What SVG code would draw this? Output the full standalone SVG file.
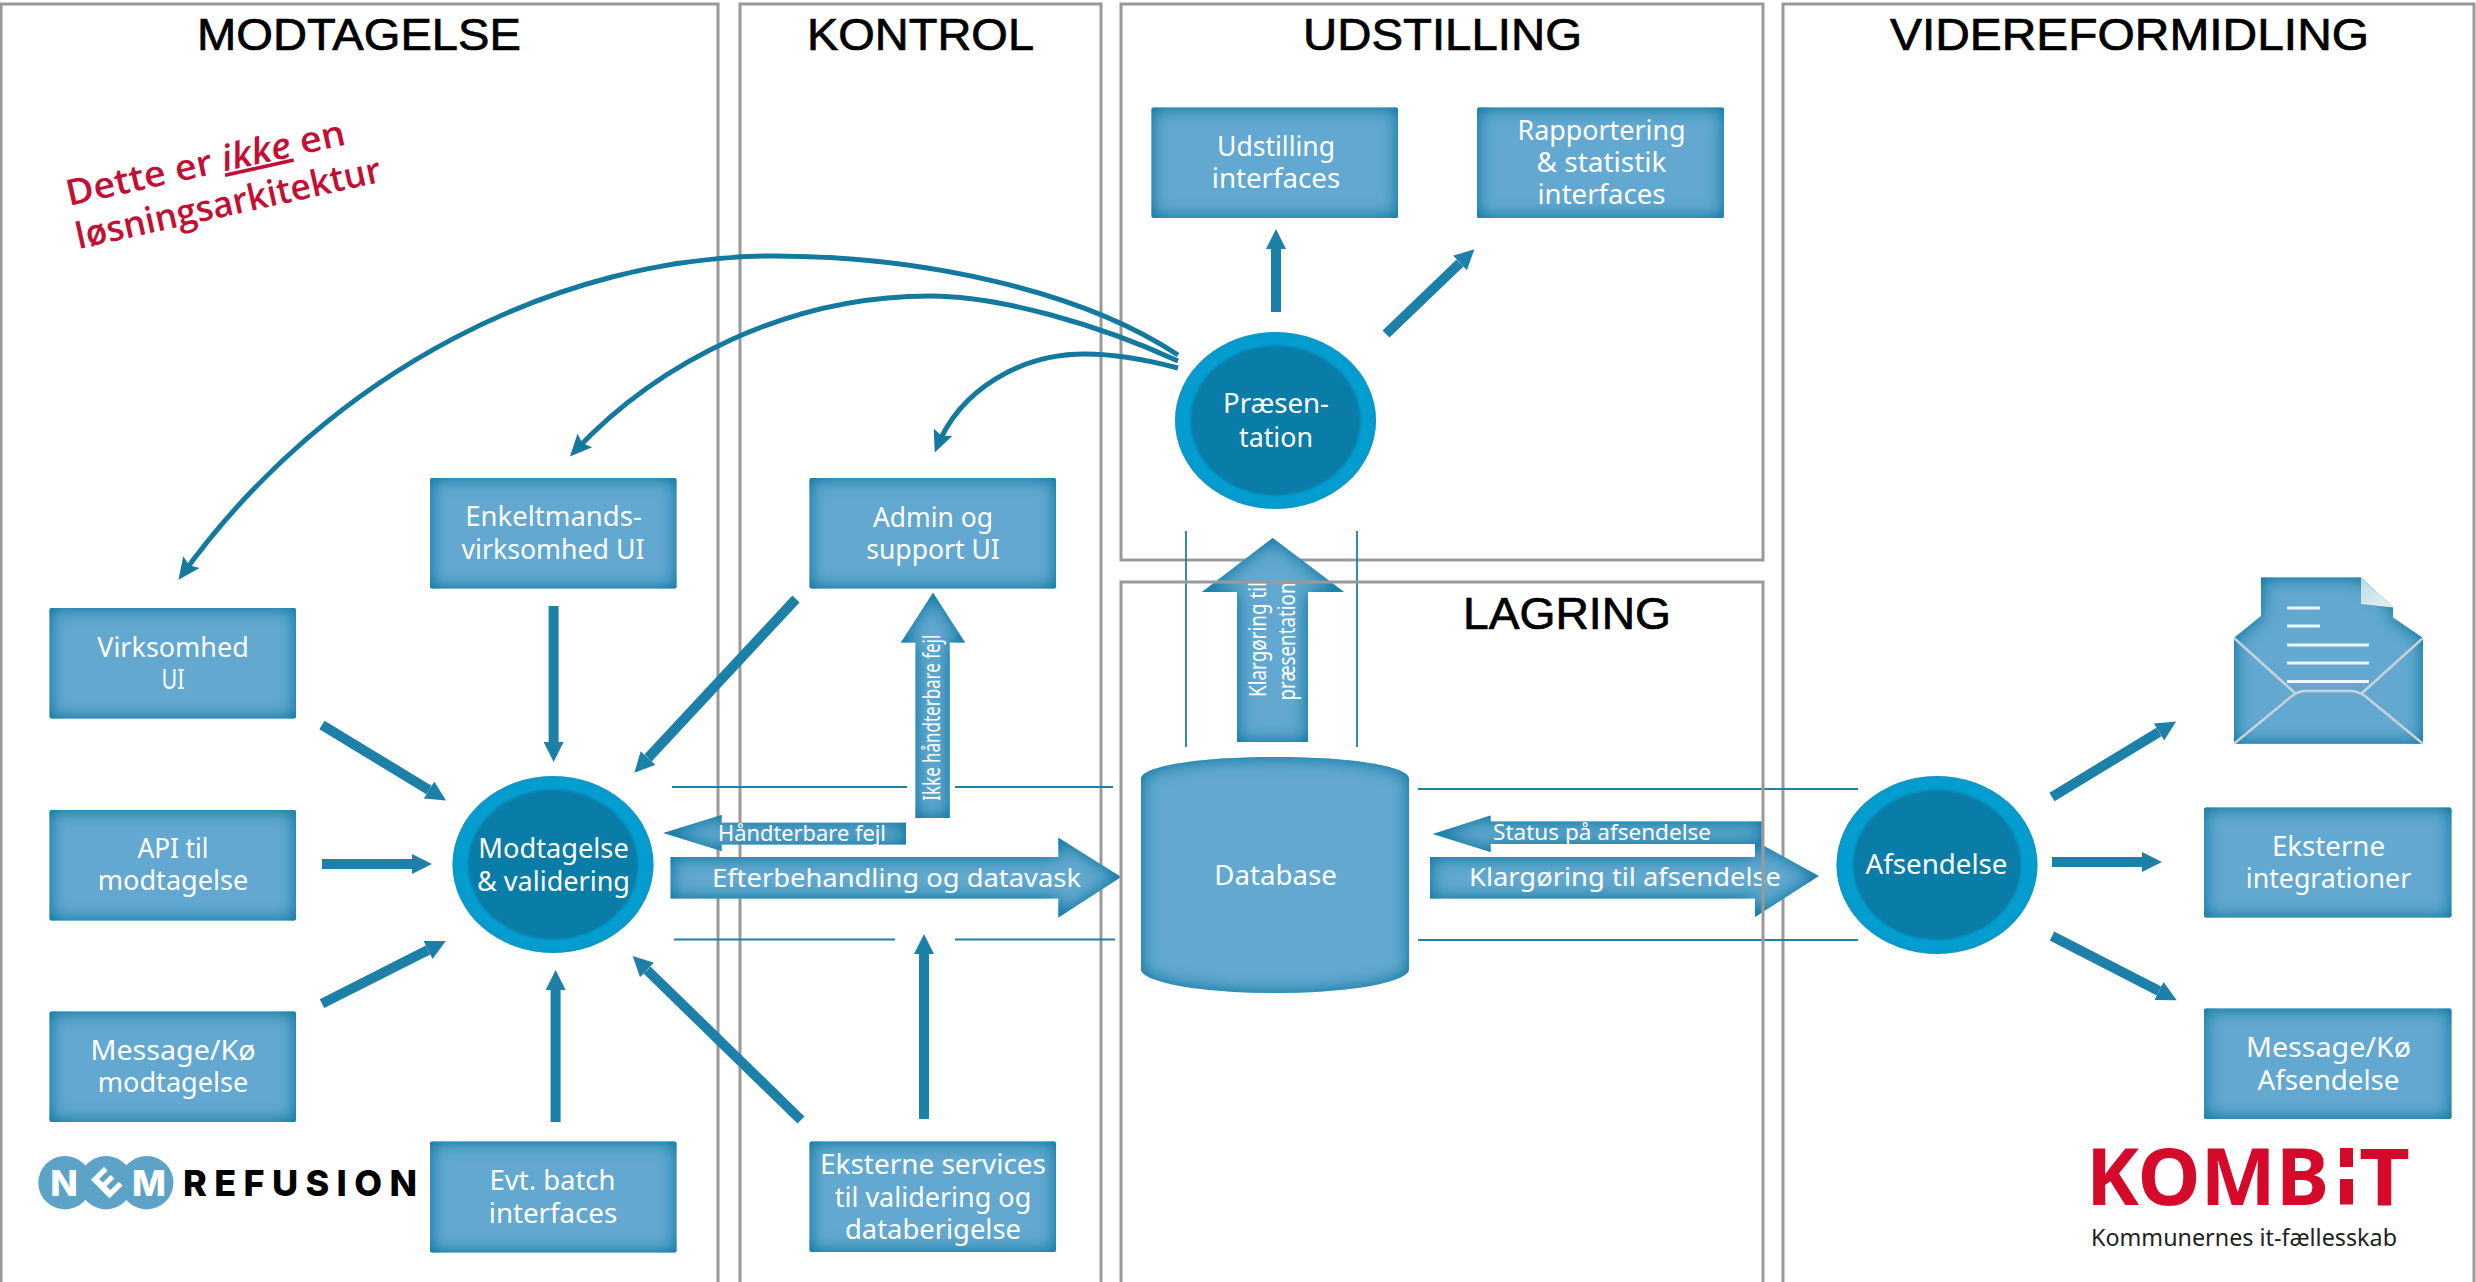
<svg xmlns="http://www.w3.org/2000/svg" width="2476" height="1282" viewBox="0 0 2476 1282">
<style>
.panel{fill:none;stroke:#999;stroke-width:3}
.title{font-family:"Liberation Sans",Arial,sans-serif;font-size:44px;fill:#000;stroke:#000;stroke-width:.7}
.box{fill:#62a8d0;filter:url(#soft)}
.t{font-family:"Noto Sans","Liberation Sans",sans-serif;font-size:27px;fill:#fff;text-anchor:middle}
.s{font-size:21px}
.v{font-size:24px;text-anchor:start}
.outer{fill:#049dd0;filter:url(#ring)}
.inner{fill:#0a7ca8;filter:url(#ringin)}
.thin{stroke:#1f7fa6;stroke-width:1.8;fill:none}
.conn{stroke:#1c80a8;stroke-width:10;fill:none;marker-end:url(#ah)}
.curve{stroke:#14799f;stroke-width:5;fill:none;marker-end:url(#ch)}
.red{font-family:"Open Sans","Liberation Sans",sans-serif;font-weight:600;font-size:36px;fill:#c40f35}
.logo{font-family:Inter,"Liberation Sans",sans-serif;font-weight:800;font-size:36px}
.kb{font-family:"Noto Sans","Liberation Sans",sans-serif;font-weight:700;font-size:79px;fill:#d50a2a}
</style>
<defs>
<filter id="soft" x="-5%" y="-5%" width="110%" height="110%" color-interpolation-filters="sRGB">
<feGaussianBlur in="SourceAlpha" stdDeviation="9" result="b"/>
<feFlood flood-color="#1f82aa" result="f"/>
<feComposite in="f" in2="b" operator="out" result="e"/>
<feComponentTransfer in="e" result="e1"><feFuncA type="linear" slope="1.5"/></feComponentTransfer>
<feComposite in="e1" in2="SourceAlpha" operator="in" result="e2"/>
<feMerge><feMergeNode in="SourceGraphic"/><feMergeNode in="e2"/></feMerge>
</filter>
<filter id="ring" x="-5%" y="-5%" width="110%" height="110%" color-interpolation-filters="sRGB">
<feGaussianBlur in="SourceAlpha" stdDeviation="2.5" result="b"/>
<feFlood flood-color="#1a8db8" result="f"/>
<feComposite in="f" in2="b" operator="out" result="e"/>
<feComposite in="e" in2="SourceAlpha" operator="in" result="e2"/>
<feMerge><feMergeNode in="SourceGraphic"/><feMergeNode in="e2"/></feMerge>
</filter>
<filter id="ringin" x="-5%" y="-5%" width="110%" height="110%" color-interpolation-filters="sRGB">
<feGaussianBlur in="SourceGraphic" stdDeviation="1"/>
</filter>
<marker id="ah" markerUnits="userSpaceOnUse" markerWidth="20" markerHeight="20" viewBox="0 0 20 20" refX="0" refY="10" orient="auto"><path d="M0,0L20,10L0,20z" fill="#1c80a8"/></marker>
<marker id="ch" markerUnits="userSpaceOnUse" markerWidth="22" markerHeight="22" viewBox="0 0 22 22" refX="16" refY="11" orient="auto"><path d="M0,1L22,11L0,21L4,11z" fill="#14799f"/></marker>
<linearGradient id="fold" x1="0" y1="0" x2="1" y2="1"><stop offset="0" stop-color="#b9dbe4"/><stop offset="1" stop-color="#e8f3f5"/></linearGradient>
</defs>

<g id="panels">
<rect class="panel" x="1" y="4" width="717" height="1290"/>
<rect class="panel" x="740" y="4" width="361" height="1290"/>
<rect class="panel" x="1121" y="4" width="642" height="556"/>
<rect class="panel" x="1783" y="4" width="691" height="1290"/>
<text class="title" x="197" y="50" textLength="324" lengthAdjust="spacingAndGlyphs">MODTAGELSE</text>
<text class="title" x="807" y="50" textLength="227" lengthAdjust="spacingAndGlyphs">KONTROL</text>
<text class="title" x="1303" y="50" textLength="279" lengthAdjust="spacingAndGlyphs">UDSTILLING</text>
<text class="title" x="1890" y="50" textLength="479" lengthAdjust="spacingAndGlyphs">VIDEREFORMIDLING</text>
</g>

<g id="connectors">
<path class="thin" d="M672,787H907M955,787H1113M674,939.5H895M955,939.5H1115M1186,531V747M1357,531V747M1418,789H1858M1418,940H1858"/>
<path class="conn" d="M553.6,606V742"/>
<path class="conn" d="M796,599L648,758"/>
<path class="conn" d="M322,725L429,790"/>
<path class="conn" d="M322,864H412"/>
<path class="conn" d="M322,1003.6L428,950"/>
<path class="conn" d="M555.6,1122V990"/>
<path class="conn" d="M801,1120L647,970"/>
<path class="conn" d="M924,1119V954"/>
<path class="conn" d="M1276,312V249"/>
<path class="conn" d="M1386,334L1460,263"/>
<path class="conn" d="M2052,797L2159,732"/>
<path class="conn" d="M2052,862H2142"/>
<path class="conn" d="M2052,936L2159,991"/>
<path class="curve" d="M1178,355C1080,290 920,256 774,256C560,256 330,370 182,575"/>
<path class="curve" d="M1178,361C1100,325 1000,296 930,296C790,296 660,360 574,452"/>
<path class="curve" d="M1178,368C1140,358 1110,354 1085,354C1020,354 960,390 937,447"/>
<g id="big-arrows">
<path class="box" d="M663.5,833L721.6,815V822.7H906V844.6H721.6V851z"/>
<text class="t s" x="802" y="840.5" textLength="168" lengthAdjust="spacingAndGlyphs">Håndterbare fejl</text>
<path class="box" d="M670.6,857H1058.4V837.7L1121,877L1058.4,917.5V898.5H670.6z"/>
<text class="t" style="font-size:26px" x="896.5" y="886.5" textLength="369" lengthAdjust="spacingAndGlyphs">Efterbehandling og datavask</text>
<path class="box" d="M915.5,818V642.6H901L933,592.8L965,642.6H949.7V818z"/>
<text class="t v" transform="translate(939.5,800.7) rotate(-90)" textLength="166" lengthAdjust="spacingAndGlyphs">Ikke håndterbare fejl</text>
<path class="box" d="M1237,742V592H1202L1272.7,538L1344,592H1308V742z"/>
<text class="t v" transform="translate(1265.5,697) rotate(-90)" textLength="115" lengthAdjust="spacingAndGlyphs">Klargøring til</text>
<text class="t v" transform="translate(1294.5,700.5) rotate(-90)" textLength="118" lengthAdjust="spacingAndGlyphs">præsentation</text>
<path class="box" d="M1433,834L1490.6,815.5V821.5H1761.7V844H1490.6V852z"/>
<text class="t" style="font-size:22px" x="1602" y="840" textLength="218" lengthAdjust="spacingAndGlyphs">Status på afsendelse</text>
<path class="box" d="M1430,857H1755V841L1818.7,876L1755,917V898.4H1430z"/>
<text class="t" style="font-size:25px" x="1625" y="886" textLength="312" lengthAdjust="spacingAndGlyphs">Klargøring til afsendelse</text>
</g>
</g>

<g id="panel-lagring">
<rect class="panel" x="1121" y="582" width="642" height="720"/>
<text class="title" x="1463" y="629" textLength="208" lengthAdjust="spacingAndGlyphs">LAGRING</text>
</g>

<g id="enkeltmands"><rect class="box" x="430" y="478" width="246.500" height="110.500" rx="2"/>
<text class="t" x="553.500" y="526" textLength="176.500" lengthAdjust="spacingAndGlyphs">Enkeltmands-</text>
<text class="t" x="553" y="558.500" textLength="183" lengthAdjust="spacingAndGlyphs">virksomhed UI</text></g>
<g id="virksomhed"><rect class="box" x="49.500" y="608" width="246.500" height="110.500" rx="2"/>
<text class="t" x="173" y="656.500" textLength="151.500" lengthAdjust="spacingAndGlyphs">Virksomhed</text>
<text class="t" x="173" y="688.500" textLength="23" lengthAdjust="spacingAndGlyphs">UI</text></g>
<g id="api"><rect class="box" x="49.500" y="810" width="246.500" height="110.500" rx="2"/>
<text class="t" x="173" y="857.500" textLength="71" lengthAdjust="spacingAndGlyphs">API til</text>
<text class="t" x="173" y="890" textLength="150.500" lengthAdjust="spacingAndGlyphs">modtagelse</text></g>
<g id="message-in"><rect class="box" x="49.500" y="1011.500" width="246.500" height="110.500" rx="2"/>
<text class="t" x="173" y="1059.500" textLength="165" lengthAdjust="spacingAndGlyphs">Message/Kø</text>
<text class="t" x="173" y="1092" textLength="150.500" lengthAdjust="spacingAndGlyphs">modtagelse</text></g>
<g id="batch"><rect class="box" x="430" y="1141.500" width="246.500" height="111" rx="2"/>
<text class="t" x="552.500" y="1189.500" textLength="126" lengthAdjust="spacingAndGlyphs">Evt. batch</text>
<text class="t" x="553" y="1222.500" textLength="128.500" lengthAdjust="spacingAndGlyphs">interfaces</text></g>
<g id="admin"><rect class="box" x="809.500" y="478" width="246.500" height="110.500" rx="2"/>
<text class="t" x="933" y="527" textLength="120" lengthAdjust="spacingAndGlyphs">Admin og</text>
<text class="t" x="933" y="559" textLength="133.500" lengthAdjust="spacingAndGlyphs">support UI</text></g>
<g id="eksterne-services"><rect class="box" x="809.500" y="1141.500" width="246.500" height="110.500" rx="2"/>
<text class="t" x="933" y="1174" textLength="226" lengthAdjust="spacingAndGlyphs">Eksterne services</text>
<text class="t" x="933" y="1206.500" textLength="196.500" lengthAdjust="spacingAndGlyphs">til validering og</text>
<text class="t" x="933" y="1238.500" textLength="176" lengthAdjust="spacingAndGlyphs">databerigelse</text></g>
<g id="udstilling-if"><rect class="box" x="1151.500" y="107.500" width="246.500" height="110.500" rx="2"/>
<text class="t" x="1276" y="155.500" textLength="118" lengthAdjust="spacingAndGlyphs">Udstilling</text>
<text class="t" x="1276" y="188" textLength="128.500" lengthAdjust="spacingAndGlyphs">interfaces</text></g>
<g id="rapportering"><rect class="box" x="1477" y="107.500" width="247" height="110.500" rx="2"/>
<text class="t" x="1601.500" y="139.500" textLength="168" lengthAdjust="spacingAndGlyphs">Rapportering</text>
<text class="t" x="1601.500" y="172" textLength="130" lengthAdjust="spacingAndGlyphs">&amp; statistik</text>
<text class="t" x="1601.500" y="204" textLength="128" lengthAdjust="spacingAndGlyphs">interfaces</text></g>
<g id="eksterne-int"><rect class="box" x="2204" y="807.500" width="247.500" height="110" rx="2"/>
<text class="t" x="2328.500" y="855.500" textLength="113" lengthAdjust="spacingAndGlyphs">Eksterne</text>
<text class="t" x="2328.500" y="888" textLength="165.500" lengthAdjust="spacingAndGlyphs">integrationer</text></g>
<g id="message-out"><rect class="box" x="2204" y="1008.500" width="247.500" height="110.500" rx="2"/>
<text class="t" x="2328.500" y="1057" textLength="165" lengthAdjust="spacingAndGlyphs">Message/Kø</text>
<text class="t" x="2328.500" y="1089.500" textLength="142" lengthAdjust="spacingAndGlyphs">Afsendelse</text></g>

<g id="modtagelse-validering"><ellipse class="outer" cx="553" cy="864.500" rx="100.500" ry="88.500"/><ellipse class="inner" cx="553" cy="864.500" rx="85" ry="75"/>
<text class="t" x="553.500" y="858" textLength="150.500" lengthAdjust="spacingAndGlyphs">Modtagelse</text>
<text class="t" x="553.500" y="890.500" textLength="153" lengthAdjust="spacingAndGlyphs">&amp; validering</text></g>
<g id="praesentation"><ellipse class="outer" cx="1275.500" cy="420.500" rx="100.500" ry="88.500"/><ellipse class="inner" cx="1275.500" cy="420.500" rx="85" ry="75"/>
<text class="t" x="1276" y="413" textLength="106" lengthAdjust="spacingAndGlyphs">Præsen-</text>
<text class="t" x="1276" y="446.500" textLength="74" lengthAdjust="spacingAndGlyphs">tation</text></g>
<g id="afsendelse"><ellipse class="outer" cx="1937" cy="865" rx="100.500" ry="89"/><ellipse class="inner" cx="1937" cy="865" rx="84" ry="75"/>
<text class="t" x="1936.500" y="874" textLength="142" lengthAdjust="spacingAndGlyphs">Afsendelse</text></g>

<g id="database"><path class="box" d="M1141,779C1141,766 1200,757 1275,757C1350,757 1409,766 1409,779V969C1409,982 1350,993 1275,993C1200,993 1141,982 1141,969z"/>
<text class="t" x="1275.500" y="885" textLength="122.500" lengthAdjust="spacingAndGlyphs">Database</text></g>

<g id="envelope">
<path class="box" d="M2234,638L2261,616V577.500H2361L2393,607.500V617.500L2423,638V743.700H2234z"/>
<path d="M2361,577.500L2393,607.500L2361,604z" fill="url(#fold)"/>
<path d="M2287,608H2320M2287,626H2320M2287,645H2369M2287,663H2369M2287,681.500H2369" stroke="#eef6f9" stroke-width="3" fill="none"/>
<path d="M2234,638L2296,694M2423,638L2361,694M2234,743.700L2292,696Q2298,691 2306,691H2350Q2358,691 2365,696L2423,743.700" stroke="#c8d2d6" stroke-width="2.500" fill="none"/>
</g>

<g id="note" transform="rotate(-12.500 69 206)">
<text class="red" x="69" y="206" textLength="285" lengthAdjust="spacingAndGlyphs">Dette er <tspan font-style="italic" text-decoration="underline">ikke</tspan> en</text>
<text class="red" x="69" y="250" textLength="312" lengthAdjust="spacingAndGlyphs">løsningsarkitektur</text>
</g>

<g id="nem-logo">
<circle cx="65" cy="1182.700" r="26.700" fill="#5ca3c7"/><circle cx="106" cy="1182.700" r="26.700" fill="#5ca3c7"/><circle cx="146.700" cy="1182.700" r="26.700" fill="#5ca3c7"/>
<text class="logo" x="64" y="1195.500" text-anchor="middle" fill="#fff">N</text>
<text class="logo" transform="translate(106.500,1182.700) rotate(-45)" y="13" text-anchor="middle" fill="#fff">E</text>
<text class="logo" x="149" y="1195.500" text-anchor="middle" fill="#fff">M</text>
<text class="logo" x="183" y="1195.500" textLength="234" fill="#000">REFUSION</text>
</g>

<g id="kombit-logo">
<text class="kb" x="2086" y="1204.500" textLength="243" lengthAdjust="spacingAndGlyphs">KOMB</text>
<rect x="2340" y="1148" width="13" height="19" fill="#d50a2a"/><rect x="2340" y="1179" width="13" height="25.500" fill="#d50a2a"/>
<text class="kb" x="2359" y="1204.500" textLength="51" lengthAdjust="spacingAndGlyphs">T</text>
<text x="2091" y="1246" textLength="306" lengthAdjust="spacingAndGlyphs" style="font-family:'Noto Sans','Liberation Sans',sans-serif;font-size:23px;fill:#222">Kommunernes it-fællesskab</text>
</g>
</svg>
